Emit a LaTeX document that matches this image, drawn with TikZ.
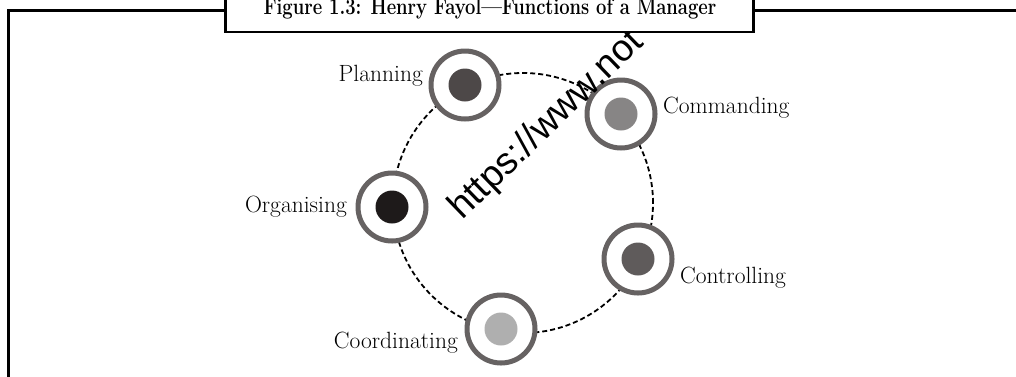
\documentclass[tikz,border=0pt]{standalone}
\usepackage{fontspec}
\newfontfamily\wmfont{Liberation Sans}
\definecolor{ringgray}{RGB}{102,98,98}
\definecolor{dotA}{RGB}{77,72,72}
\definecolor{dotB}{RGB}{135,133,133}
\definecolor{dotC}{RGB}{30,26,26}
\definecolor{dotD}{RGB}{95,91,91}
\definecolor{dotE}{RGB}{175,175,175}
\begin{document}
\begin{tikzpicture}[x=1pt,y=-1pt,
  frameline/.style={line width=2.5pt, black},
  ring/.style={circle, draw=ringgray, line width=5pt, minimum size=68pt, fill=white, inner sep=0pt},
  dot/.style={circle, minimum size=33pt, inner sep=0pt},
  dashcircle/.style={line width=1.8pt, dash pattern=on 5pt off 3pt},
  lbl/.style={font=\fontsize{23.5}{28}\selectfont, inner sep=0pt},
  titlebox/.style={draw, fill=white, line width=2.5pt, minimum width=528pt, minimum height=45pt, inner sep=0pt},
  wmark/.style={font=\wmfont\fontsize{37.5}{42}\selectfont, rotate=44, inner sep=0pt}
]
\useasboundingbox (0,0) rectangle (1016,376);
% frame
\coordinate (fb) at (8.7,380);
\coordinate (ftl) at (8.7,10.5);
\coordinate (fr) at (1020,10.5);
\draw[frameline] (fb) -- (ftl) -- (fr);
% dashed cycle
\coordinate (ctr) at (523,203);
\draw[dashcircle] (ctr) circle[radius=130pt];
% rings
\node[ring] (pl) at (465,85) {};
\node[ring] (cm) at (621,114) {};
\node[ring] (or) at (392,207) {};
\node[ring] (ct) at (638,259) {};
\node[ring] (co) at (501,329) {};
\node[dot, fill=dotA] (pld) at (pl) {};
\node[dot, fill=dotB] (cmd) at (cm) {};
\node[dot, fill=dotC] (ord) at (or) {};
\node[dot, fill=dotD] (ctd) at (ct) {};
\node[dot, fill=dotE] (cod) at (co) {};
% labels
\node[lbl, anchor=base east] (pll) at (423,81) {Planning};
\node[lbl, anchor=base west] (cml) at (663,113) {Commanding};
\node[lbl, anchor=base east] (orl) at (347,212) {Organising};
\node[lbl, anchor=base west] (ctl) at (680,283) {Controlling};
\node[lbl, anchor=base east] (col) at (458,348) {Coordinating};
% watermark
\node[wmark, anchor=base west] (wm) at (462,221) {https://www.not};
% title
\node[titlebox, anchor=south west] (tb) at (224,33) {};
\node[font=\bfseries\fontsize{23}{27}\selectfont, anchor=base] (tt) at (490,14) {\scalebox{0.8}[1]{Figure 1.3: Henry Fayol---Functions of a Manager}};
\end{tikzpicture}
\end{document}
